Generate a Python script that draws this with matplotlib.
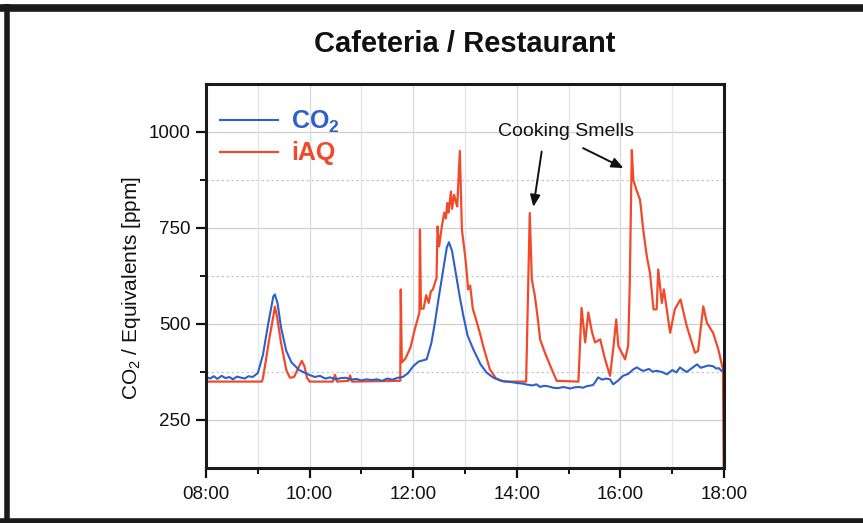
import matplotlib
matplotlib.use("Agg")
import matplotlib.pyplot as plt
from matplotlib.lines import Line2D
from matplotlib.ticker import FixedLocator

plt.rcParams['font.family'] = ['Liberation Sans', 'DejaVu Sans']
plt.rcParams['mathtext.fontset'] = 'custom'
plt.rcParams['mathtext.rm'] = 'Liberation Sans'
plt.rcParams['mathtext.bf'] = 'Liberation Sans:bold'
plt.rcParams['mathtext.it'] = 'Liberation Sans:italic'

# ---------------- data (time in decimal hours) ----------------
co2_time = [8.00, 8.08, 8.15, 8.22, 8.30, 8.38, 8.45, 8.52, 8.60, 8.68, 8.75, 8.82, 8.90, 9.00,
            9.10, 9.20, 9.30, 9.33, 9.38, 9.45, 9.55, 9.65, 9.80, 9.95, 10.10, 10.20, 10.30, 10.40,
            10.50, 10.60, 10.70, 10.80, 10.90, 11.00, 11.10, 11.20, 11.30, 11.40, 11.50, 11.60,
            11.70, 11.80, 11.90, 12.00, 12.10, 12.26, 12.35, 12.42, 12.50, 12.58, 12.65, 12.69,
            12.75, 12.81, 12.90, 12.97, 13.05, 13.16, 13.30, 13.42, 13.55, 13.70, 13.82, 13.93,
            14.02, 14.10, 14.20, 14.30, 14.38, 14.45, 14.52, 14.60, 14.70, 14.80, 14.90, 15.03,
            15.12, 15.20, 15.28, 15.35, 15.47, 15.52, 15.57, 15.65, 15.72, 15.80, 15.86, 15.95,
            16.05, 16.15, 16.25, 16.32, 16.40, 16.45, 16.55, 16.62, 16.70, 16.80, 16.90, 17.00,
            17.08, 17.15, 17.22, 17.28, 17.38, 17.48, 17.55, 17.60, 17.70, 17.79, 17.85, 17.90,
            17.95, 18.00]
co2_ppm = [362, 358, 364, 357, 365, 359, 362, 356, 363, 360, 358, 364, 362, 372,
           420, 500, 572, 577, 555, 490, 430, 400, 380, 370, 362, 365, 358, 361,
           356, 359, 360, 355, 357, 353, 356, 354, 356, 352, 358, 355,
           360, 362, 372, 390, 402, 408, 450, 504, 575, 642, 700, 713,
           690, 642, 570, 520, 470, 434, 395, 373, 360, 352, 350, 348,
           346, 345, 342, 340, 343, 336, 339, 338, 334, 333, 336, 332,
           335, 336, 334, 338, 341, 350, 361, 355, 358, 356, 343, 352,
           365, 370, 382, 387, 380, 378, 383, 376, 378, 375, 369, 380,
           374, 387, 380, 375, 385, 395, 386, 388, 392, 390, 384, 385,
           378, 382]

iaq_time = [8.00, 9.08, 9.10, 9.15, 9.22, 9.30, 9.33, 9.37, 9.45, 9.55, 9.62, 9.70, 9.78, 9.85,
            9.90, 9.95, 10.00, 10.45, 10.49, 10.53, 10.75, 10.78, 10.82, 11.75, 11.76, 11.78,
            11.85, 11.95, 12.03, 12.08, 12.12, 12.13, 12.15, 12.20, 12.25, 12.30, 12.34, 12.38,
            12.45, 12.47, 12.50, 12.56, 12.60, 12.63, 12.66, 12.68, 12.71, 12.73, 12.75, 12.79,
            12.82, 12.85, 12.90, 12.94, 13.00, 13.03, 13.06, 13.10, 13.15, 13.23, 13.30, 13.35,
            13.48, 13.60, 13.75, 14.18, 14.25, 14.29, 14.35, 14.40, 14.45, 14.54, 14.65,
            14.77, 15.19, 15.25, 15.32, 15.38, 15.45, 15.51, 15.61, 15.70, 15.80, 15.86, 15.92,
            15.96, 16.09, 16.15, 16.18, 16.22, 16.25, 16.31, 16.38, 16.44, 16.51, 16.57, 16.64,
            16.70, 16.73, 16.80, 16.84, 16.96, 17.05, 17.16, 17.28, 17.44, 17.50, 17.60, 17.67,
            17.79, 17.89, 17.98, 18.00]
iaq_ppm = [350, 350, 360, 400, 460, 520, 545, 520, 450, 380, 360, 362, 385, 404,
           390, 360, 350, 350, 368, 350, 352, 366, 350, 352, 590, 400,
           410, 440, 486, 510, 530, 746, 540, 540, 575, 555, 585, 590,
           620, 754, 702, 760, 790, 775, 815, 790, 823, 845, 800, 836,
           820, 806, 951, 746, 680, 640, 590, 600, 540, 504, 470, 443,
           382, 358, 350, 350, 789, 616, 572, 520, 460, 426, 390,
           352, 350, 542, 452, 530, 480, 452, 460, 410, 365, 434, 512,
           443, 408, 443, 600, 953, 875, 849, 823, 746, 676, 634, 538,
           538, 642, 555, 590, 477, 538, 564, 495, 425, 430, 546, 503,
           477, 434, 382, 0]

series_labels = [r'CO$_\mathbf{2}$', 'iAQ']
series_colors = ['#2f5fcc', '#f04a2a']

x_ticks = [8, 10, 12, 14, 16, 18]
x_tick_labels = ['08:00', '10:00', '12:00', '14:00', '16:00', '18:00']
x_minor = [9, 11, 13, 15, 17]
y_ticks = [250, 500, 750, 1000]
y_minor = [375, 625, 875]

title = 'Cafeteria / Restaurant'
ylabel = r'CO$_2$ / Equivalents [ppm]'
note_text = 'Cooking Smells'
note_pos = (14.95, 1000)
arrow_tails = [(14.48, 949), (15.28, 958)]
arrow_tips = [(14.32, 805), (16.06, 906)]

# ---------------- figure ----------------
fig = plt.figure(figsize=(8.63, 5.23), dpi=100)
ax = fig.add_axes([206/863, 1-468/523, 518/863, 384/523])

ax.set_xlim(8, 18)
ax.set_ylim(125, 1125)

l_iaq, = ax.plot(iaq_time, iaq_ppm, color=series_colors[1], lw=1.6, zorder=3)
l_co2, = ax.plot(co2_time, co2_ppm, color=series_colors[0], lw=1.5, zorder=4)

# grid
for v in y_ticks:
    ax.axhline(v, color='#cfcfcf', lw=0.9, zorder=1)
for v in y_minor:
    ax.axhline(v, color='#c8c8c8', lw=0.9, ls=(0, (2, 2)), zorder=1)
for v in x_ticks:
    ax.axvline(v, color='#d6dde6', lw=1.0, zorder=1)
for v in x_minor:
    ax.axvline(v, color='#e2e7ee', lw=1.0, zorder=1)

ax.set_xticks(x_ticks)
ax.set_xticklabels(x_tick_labels)
ax.xaxis.set_minor_locator(FixedLocator(x_minor))
ax.set_yticks(y_ticks)
ax.yaxis.set_minor_locator(FixedLocator(y_minor))

ax.tick_params(axis='both', which='major', direction='out', length=7, width=1.6,
               labelsize=13.5, colors='#111111', pad=4)
ax.tick_params(axis='both', which='minor', direction='out', length=4, width=1.4, colors='#111111')
ax.tick_params(axis='x', which='major', pad=6)

for s in ax.spines.values():
    s.set_linewidth(2.2)
    s.set_color('#1a1a1a')
    s.set_zorder(5)

ax.set_title(title, fontsize=21, fontweight='bold', pad=23, color='#111111')
ax.set_ylabel(ylabel, fontsize=15, color='#111111')
ax.yaxis.set_label_coords(-0.122, 0.47)

leg = ax.legend([l_co2, l_iaq], series_labels, loc='upper left',
                bbox_to_anchor=(14/518, 1 - 25/384), frameon=False,
                prop={'size': 18, 'weight': 'bold'}, handlelength=2.3,
                handletextpad=0.55, labelspacing=0.25, borderpad=0, borderaxespad=0,
                labelcolor='linecolor')

ax.text(note_pos[0], note_pos[1], note_text, fontsize=14, ha='center', va='center',
        color='#111111', zorder=6)
for tail, tip in zip(arrow_tails, arrow_tips):
    ax.annotate('', xy=tip, xytext=tail,
                arrowprops=dict(arrowstyle='-|>,head_length=0.7,head_width=0.3',
                                color='#111111', lw=1.4, shrinkA=0, shrinkB=0), zorder=6)

# outer frame
frame_kw = dict(transform=fig.transFigure, color='#1a1a1a', solid_capstyle='butt')
fig.add_artist(Line2D([0, 1], [1 - 8/523, 1 - 8/523], lw=5.5, **frame_kw))
fig.add_artist(Line2D([6.5/863, 6.5/863], [0, 1 - 4/523], lw=4, **frame_kw))
fig.add_artist(Line2D([0, 1], [2.5/523, 2.5/523], lw=4, **frame_kw))

fig.savefig('out.png', dpi=100)
